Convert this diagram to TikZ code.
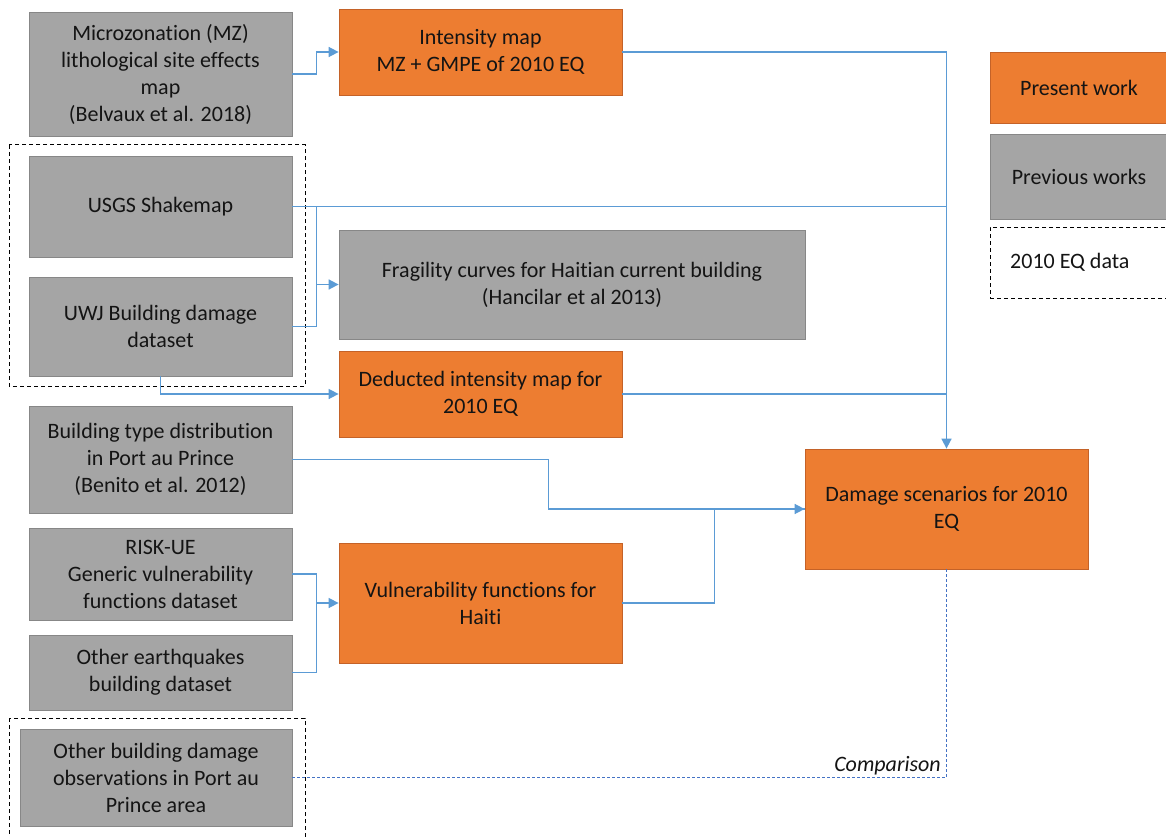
\documentclass[tikz,border=0pt]{standalone}
\usepackage{fontspec}
\setmainfont[RawFeature=-liga]{Carlito}
\usetikzlibrary{arrows.meta,calc}
\definecolor{orng}{RGB}{237,125,49}
\definecolor{orngb}{RGB}{196,98,40}
\definecolor{gry}{RGB}{165,165,165}
\definecolor{gryb}{RGB}{135,135,135}
\definecolor{lnk}{RGB}{91,155,213}
\definecolor{cmpc}{RGB}{68,114,196}
\definecolor{txt}{RGB}{20,20,20}
\tikzset{
  box/.style={draw, line width=0.8pt, inner sep=0pt, align=center, text=txt,
    font=\fontsize{22}{27}\selectfont},
  gbox/.style={box, fill=gry, draw=gryb},
  obox/.style={box, fill=orng, draw=orngb},
  grp/.style={draw=black, line width=1pt, dash pattern=on 4pt off 3pt},
  lnkline/.style={draw=lnk, line width=1.6pt},
  arr/.style={lnkline, -{Triangle[length=10pt,width=10pt]}},
  cmp/.style={draw=cmpc, line width=1.4pt, dash pattern=on 3pt off 2pt},
}
\begin{document}
\begin{tikzpicture}[x=1pt,y=-1pt]
\useasboundingbox (0,0) rectangle (1166,837);
\clip (0,0) rectangle (1166,837);
% groups
\draw[grp] (9,145) rectangle (305,386);
\draw[grp] (9,718) rectangle (305,850);
% nodes
\node[gbox, minimum width=263, minimum height=124] (mz) at (160.5,74) {Microzonation (MZ)\\lithological site effects\\map\\(Belvaux et al. 2018)};
\node[obox, minimum width=283, minimum height=86] (int) at (480.5,52) {Intensity map\\MZ + GMPE of 2010 EQ};
\node[gbox, minimum width=263, minimum height=101] (usgs) at (160.5,206.5) {USGS Shakemap};
\node[gbox, minimum width=263, minimum height=99] (uwj) at (160.5,326.5) {UWJ Building damage\\dataset};
\node[gbox, minimum width=466, minimum height=109] (frag) at (572,284.5) {Fragility curves for Haitian current building\\(Hancilar et al 2013)};
\node[obox, minimum width=283, minimum height=86] (ded) at (480.5,394) {Deducted intensity map for\\2010 EQ};
\node[gbox, minimum width=263, minimum height=107] (btype) at (160.5,459.5) {Building type distribution\\in Port au Prince\\(Benito et al. 2012)};
\node[gbox, minimum width=263, minimum height=92] (risk) at (160.5,574) {RISK-UE\\Generic vulnerability\\functions dataset};
\node[gbox, minimum width=263, minimum height=75] (other) at (160.5,672.5) {Other earthquakes\\building dataset};
\node[obox, minimum width=283, minimum height=120] (vul) at (480.5,603) {Vulnerability functions for\\Haiti};
\node[obox, minimum width=283, minimum height=120] (dam) at (946.5,509) {Damage scenarios for 2010\\EQ};
\node[gbox, minimum width=272, minimum height=97] (obs) at (156,777.5) {Other building damage\\observations in Port au\\Prince area};
% legend
\node[obox, minimum width=178, minimum height=71] (leg1) at (1079,87.5) {Present work};
\node[gbox, minimum width=178, minimum height=85] (leg2) at (1079,176.5) {Previous works};
\node[box, grp, minimum width=178, minimum height=71] (leg3) at (1079,262.5) {};
\node[anchor=west, text=txt, font=\fontsize{22}{27}\selectfont, inner sep=0pt] (leg3t) at (1010,262.5) {2010 EQ data};
% connectors
\draw[arr] (mz.east) -- ++(24,0) |- (int.west);
\draw[lnkline] (usgs.east) -- (usgs.east -| dam.north);
\draw[arr] (int.east) -| (dam.north);
\draw[lnkline] (ded.east) -- (ded.east -| dam.north);
\coordinate (j1) at ([xshift=24pt]usgs.east);
\draw[lnkline] (uwj.east) -| (j1);
\draw[arr] (j1 |- frag.west) -- (frag.west);
\draw[arr] (uwj.south) |- (ded.west);
\draw[arr] (btype.east) -- ++(256,0) |- (dam.west);
\draw[lnkline] (vul.east) -- ++(92,0) |- (dam.west);
\coordinate (j2) at ([xshift=24pt]risk.east);
\draw[lnkline] (risk.east) -- (j2) |- (other.east);
\draw[arr] (j2 |- vul.west) -- (vul.west);
\draw[cmp] (dam.south) |- (obs.east);
\node[anchor=south east, text=txt, font=\fontsize{22}{27}\selectfont\itshape, inner sep=2pt] (cmpl) at (943,777.5) {Comparison};
\end{tikzpicture}
\end{document}
